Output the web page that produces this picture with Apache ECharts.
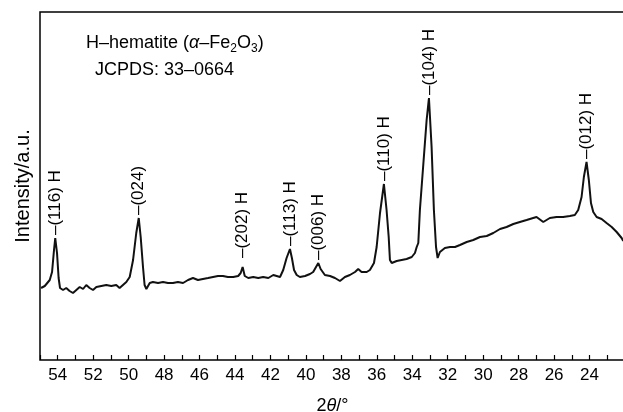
<!DOCTYPE html>
<html>
<head>
<meta charset="utf-8">
<script src="https://cdn.jsdelivr.net/npm/echarts@6/dist/echarts.min.js"></script>
<style>
  html, body { margin: 0; padding: 0; background: #fff; }
  #xrd { width: 623px; height: 412px; }
</style>
</head>
<body>
<div id="xrd"></div>
<script>
// XRD pattern, 2theta (deg) vs intensity (a.u.)
var twoTheta = [
  54.94, 54.73, 54.45, 54.32, 54.21, 54.14, 54.04, 53.95, 53.87, 53.70,
  53.52, 53.33, 53.14, 52.95, 52.76, 52.57, 52.39, 52.20, 52.01, 51.82,
  51.54, 51.26, 50.98, 50.70, 50.51, 50.32, 50.13, 49.94, 49.75, 49.57,
  49.43, 49.32, 49.19, 49.10, 49.00, 48.81, 48.63, 48.34, 48.06, 47.78,
  47.50, 47.22, 46.93, 46.65, 46.37, 46.09, 45.81, 45.52, 45.24, 44.96,
  44.68, 44.40, 44.10, 43.82, 43.68, 43.57, 43.45, 43.25, 42.97, 42.69,
  42.41, 42.12, 41.84, 41.65, 41.46, 41.28, 41.09, 40.90, 40.79, 40.67,
  40.52, 40.34, 40.05, 39.77, 39.59, 39.43, 39.30, 39.17, 38.93, 38.64,
  38.36, 38.08, 37.80, 37.52, 37.23, 37.05, 36.86, 36.57, 36.39, 36.16,
  36.01, 35.82, 35.60, 35.45, 35.33, 35.26, 35.16, 34.88, 34.60, 34.32,
  34.03, 33.85, 33.75, 33.66, 33.57, 33.38, 33.19, 33.06, 32.91, 32.78,
  32.66, 32.57, 32.44, 32.16, 31.87, 31.59, 31.31, 30.93, 30.56, 30.18,
  29.80, 29.43, 29.05, 28.68, 28.30, 27.93, 27.55, 27.18, 26.99, 26.61,
  26.24, 25.86, 25.49, 25.11, 24.83, 24.64, 24.45, 24.32, 24.17, 24.04,
  23.92, 23.79, 23.60, 23.32, 23.04, 22.75, 22.47, 22.19, 22.10
];
var intensity = [
  72, 74, 80, 88, 110, 122, 107, 82, 72, 70,
  72, 69, 67, 70, 73, 71, 75, 72, 70, 73,
  74, 75, 74, 75, 72, 75, 78, 83, 100, 127,
  142, 123, 93, 75, 71, 77, 78, 77, 78, 77,
  77, 78, 77, 80, 82, 80, 81, 82, 83, 84,
  84, 83, 83, 84, 87, 93, 84, 82, 83, 82,
  83, 82, 85, 84, 83, 90, 102, 111, 102, 90,
  85, 83, 84, 86, 88, 93, 97, 91, 85, 84,
  82, 79, 83, 85, 88, 91, 88, 88, 90, 97,
  113, 147, 176, 150, 123, 100, 97, 99, 100, 101,
  103, 107, 113, 117, 150, 195, 240, 262, 213, 150,
  113, 102, 108, 112, 113, 113, 115, 118, 120, 123,
  124, 127, 131, 133, 136, 138, 140, 142, 143, 138,
  142, 143, 143, 144, 145, 150, 163, 183, 198, 180,
  157, 148, 143, 141, 137, 133, 128, 122, 119
];

var peakPos = [54.14, 49.43, 43.57, 40.90, 39.30, 35.60, 33.06, 24.17];
var peakText = ['(116) H', '(024)', '(202) H', '(113) H', '(006) H', '(110) H', '(104) H', '(012) H'];

var font = "'Liberation Sans', Arial, Helvetica, sans-serif";
var myChart = echarts.init(document.getElementById('xrd'));

var line = twoTheta.map(function (t, i) { return [t, intensity[i]]; });

// label sits on top of the highest point near each peak
var marks = peakPos.map(function (p, k) {
  var top = 0;
  for (var i = 0; i < twoTheta.length; i++) {
    if (Math.abs(twoTheta[i] - p) < 0.08 && intensity[i] > top) top = intensity[i];
  }
  return {
    coord: [p, top],
    label: {
      formatter: '\u2013' + peakText[k],
      distance: peakText[k] === '(202) H' ? 9 : 3
    }
  };
});

var option = {
  animation: false,
  grid: {
    left: 40,
    right: -2,
    top: 12,
    bottom: 52,
    outerBoundsMode: 'none',
    show: true,
    borderColor: '#000',
    borderWidth: 1.5
  },
  xAxis: {
    type: 'value',
    inverse: true,
    min: 22,
    max: 55,
    interval: 1,
    name: '2{i|\u03b8}/\u00b0',
    nameLocation: 'middle',
    nameGap: 37,
    nameTextStyle: {
      color: '#000', fontSize: 18, fontFamily: font,
      rich: { i: { fontStyle: 'italic', fontSize: 18, fontFamily: font, color: '#000' } }
    },
    axisLine: { show: false },
    axisTick: { inside: true, length: 5, lineStyle: { color: '#000', width: 1.2 } },
    axisLabel: {
      color: '#000', fontSize: 17, fontFamily: font, margin: 7,
      formatter: function (v) { return (v % 2 === 0 && v > 22 && v < 55) ? v : ''; }
    },
    splitLine: { show: false }
  },
  yAxis: {
    type: 'value',
    min: 0,
    max: 348,
    name: 'Intensity/a.u.',
    nameLocation: 'middle',
    nameGap: 7,
    nameTextStyle: { color: '#000', fontSize: 20, fontFamily: font },
    axisLine: { show: false },
    axisTick: { show: false },
    axisLabel: { show: false },
    splitLine: { show: false }
  },
  graphic: [
    {
      type: 'text', left: 86, top: 34,
      style: {
        text: 'H\u2013hematite ({a|\u03b1}\u2013Fe{s|2}O{s|3})',
        fill: '#000', fontSize: 18, fontFamily: font,
        rich: {
          a: { fontStyle: 'italic', fontSize: 18, fontFamily: font, fill: '#000' },
          s: { fontSize: 12, fontFamily: font, fill: '#000', padding: [12, 0, 0, 0] }
        }
      }
    },
    {
      type: 'text', left: 95, top: 61,
      style: { text: 'JCPDS: 33\u20130664', fill: '#000', fontSize: 18, fontFamily: font }
    }
  ],
  series: [{
    type: 'line',
    data: line,
    showSymbol: false,
    lineStyle: { color: '#111', width: 2 },
    markPoint: {
      symbol: 'circle',
      symbolSize: 0,
      label: {
        show: true,
        position: 'top',
        rotate: 90,
        align: 'left',
        verticalAlign: 'middle',
        color: '#000',
        fontSize: 17,
        fontFamily: font
      },
      data: marks
    }
  }]
};

myChart.setOption(option);
</script>
</body>
</html>
